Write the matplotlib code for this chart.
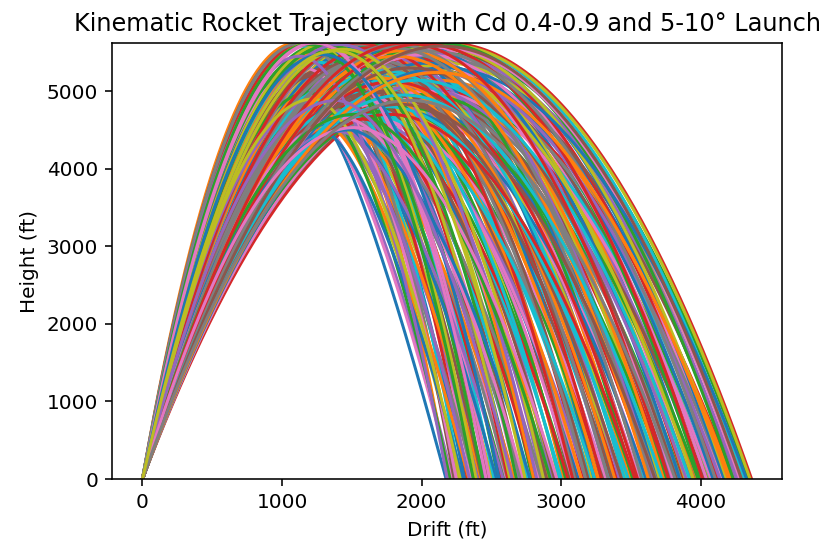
import numpy as np
import matplotlib.pyplot as plt

# each trajectory: landing drift (ft), apogee height (ft), drift at apogee (ft)
landing_ft = [
    2176, 2190, 2205, 2222, 2234, 2250, 2268, 2281, 2297, 2312,
    2330, 2344, 2360, 2377, 2391, 2408, 2425, 2440, 2456, 2473,
    2488, 2505, 2520, 2538, 2551, 2569, 2585, 2600, 2617, 2633,
    2650, 2665, 2681, 2698, 2714, 2730, 2747, 2762, 2778, 2795,
    2811, 2826, 2842, 2858, 2875, 2890, 2906, 2923, 2938, 2954,
    2970, 2986, 3002, 3018, 3034, 3050, 3066, 3082, 3098, 3114,
    3130, 3146, 3162, 3178, 3194, 3210, 3226, 3242, 3258, 3274,
    3290, 3306, 3322, 3338, 3354, 3370, 3386, 3402, 3418, 3434,
    3450, 3466, 3482, 3498, 3514, 3530, 3546, 3562, 3578, 3594,
    3610, 3626, 3642, 3658, 3674, 3690, 3706, 3722, 3738, 3754,
    3770, 3786, 3802, 3818, 3834, 3850, 3866, 3882, 3898, 3914,
    3930, 3946, 3962, 3978, 3994, 4010, 4026, 4042, 4058, 4074,
    4090, 4106, 4122, 4138, 4154, 4170, 4186, 4202, 4218, 4234,
    4250, 4266, 4282, 4298, 4314, 4330, 4346, 4366,
    2185, 2216, 2247, 2278, 2309, 2340, 2371, 2402, 2433, 2464,
    2495, 2526, 2557, 2588, 2619, 2650, 2681, 2712, 2743, 2774,
    2805, 2836, 2867, 2898, 2929, 2960, 2991, 3022, 3053, 3084,
    3115, 3146, 3177, 3208, 3239, 3270, 3301, 3332, 3363, 3394,
    3425, 3456, 3487, 3518, 3549, 3580, 3611, 3642, 3673, 3704,
    3735, 3766, 3797, 3828, 3859, 3890, 3921, 3952, 3983, 4014,
    4045, 4076, 4107, 4138, 4169, 4200, 4231, 4262, 4293, 4324,
    4355,
]
apogee_ft = [
    4500, 5620, 4980, 4620, 5600, 5300, 4760, 5580, 4450, 5120,
    5620, 4880, 5420, 4560, 5610, 5010, 4700, 5510, 4470, 5240,
    5620, 4820, 5370, 4600, 5600, 5060, 4480, 5480, 4760, 5610,
    5180, 4540, 5590, 4920, 5320, 4650, 5620, 5020, 4500, 5450,
    4810, 5600, 5140, 4580, 5540, 4960, 5280, 4700, 5620, 5080,
    4530, 5390, 4860, 5610, 5200, 4640, 5500, 4920, 5600, 5330,
    4750, 5040, 5580, 4600, 5440, 4980, 5620, 4690, 5250, 4870,
    5560, 5100, 4640, 5400, 4930, 5610, 5170, 4720, 5490, 4980,
    5600, 5300, 4800, 5060, 5620, 4700, 5380, 4900, 5560, 5150,
    4760, 5450, 5000, 5610, 4830, 5260, 5580, 4950, 5360, 4790,
    5620, 5100, 5500, 4880, 5220, 5600, 4960, 5420, 5060, 5610,
    4950, 5330, 5540, 5000, 5620, 5180, 4920, 5470, 5600, 5080,
    5360, 4990, 5610, 5250, 5500, 5060, 5580, 5320, 5140, 5620,
    5420, 5230, 5560, 5370, 5610, 5300, 5480, 5620,
    5450, 4560, 5610, 4900, 5380, 4520, 5600, 4820, 5200, 5620,
    4540, 5000, 5470, 4700, 5590, 4880, 5260, 4560, 5520, 4960,
    5610, 4680, 5340, 5020, 5580, 4600, 5200, 5460, 4800, 5620,
    5080, 4680, 5400, 4900, 5600, 5180, 4760, 5500, 5000, 5620,
    4850, 5260, 5580, 4760, 5120, 5460, 4900, 5600, 5200, 4860,
    5520, 5040, 5620, 5300, 4920, 5560, 5140, 5400, 4960, 5610,
    5300, 5000, 5520, 5130, 5600, 5240, 5000, 5480, 5580, 5400,
    5600,
]
apex_ft = [
    1340, 1100, 1200, 1260, 1117, 1150, 1240, 1140, 1330, 1200,
    1165, 1250, 1190, 1330, 1195, 1260, 1320, 1220, 1400, 1260,
    1244, 1340, 1270, 1400, 1280, 1330, 1420, 1300, 1390, 1317,
    1350, 1440, 1340, 1400, 1370, 1450, 1374, 1420, 1480, 1400,
    1460, 1413, 1440, 1500, 1440, 1480, 1460, 1520, 1469, 1500,
    1520, 1500, 1540, 1509, 1530, 1560, 1535, 1570, 1549, 1560,
    1590, 1590, 1581, 1610, 1600, 1620, 1613, 1640, 1630, 1650,
    1645, 1660, 1670, 1670, 1690, 1685, 1700, 1710, 1710, 1730,
    1725, 1735, 1750, 1760, 1757, 1770, 1775, 1790, 1789, 1800,
    1815, 1815, 1830, 1829, 1845, 1850, 1853, 1870, 1870, 1885,
    1885, 1900, 1901, 1915, 1920, 1925, 1940, 1941, 1955, 1957,
    1970, 1973, 1981, 1995, 1997, 2010, 2020, 2021, 2029, 2040,
    2045, 2060, 2061, 2070, 2077, 2090, 2093, 2101, 2112, 2117,
    2125, 2133, 2141, 2149, 2157, 2165, 2173, 2183,
    1130, 1310, 1124, 1230, 1190, 1360, 1186, 1290, 1250, 1232,
    1410, 1320, 1290, 1400, 1310, 1390, 1360, 1470, 1380, 1440,
    1403, 1500, 1440, 1480, 1465, 1540, 1510, 1515, 1570, 1542,
    1580, 1620, 1595, 1640, 1620, 1650, 1690, 1670, 1700, 1697,
    1730, 1735, 1745, 1790, 1790, 1790, 1830, 1821, 1845, 1880,
    1868, 1900, 1899, 1920, 1960, 1945, 1975, 1976, 2010, 2007,
    2030, 2060, 2054, 2080, 2085, 2110, 2116, 2131, 2147, 2162,
    2178,
]

fig = plt.figure(figsize=(822 / 144, 541 / 144), dpi=144)
ax = fig.add_axes([0.1363, 0.1146, 0.8151, 0.8059])

n = len(landing_ft)
order = [(i * 53) % n for i in range(n)]  # mix the colours a bit

for i in order:
    L, H, xa = landing_ft[i], apogee_ft[i], apex_ft[i]
    # draggier flights come down steeper than they went up
    q = np.clip(2 * (L - xa) / xa, 1.2, 2.0)
    x_up = np.linspace(0, xa, 120)
    y_up = H * (1 - (1 - x_up / xa) ** 2)
    x_dn = np.linspace(xa, L, 120)[1:]
    y_dn = H * (1 - ((x_dn - xa) / (L - xa)) ** q)
    ax.plot(np.concatenate([x_up, x_dn]), np.concatenate([y_up, y_dn]))

ax.set_ylim(0, 5620)
ax.set_title('Kinematic Rocket Trajectory with Cd 0.4-0.9 and 5-10° Launch')
ax.set_xlabel('Drift (ft)')
ax.set_ylabel('Height (ft)')

fig.savefig('out.png', dpi=144)
